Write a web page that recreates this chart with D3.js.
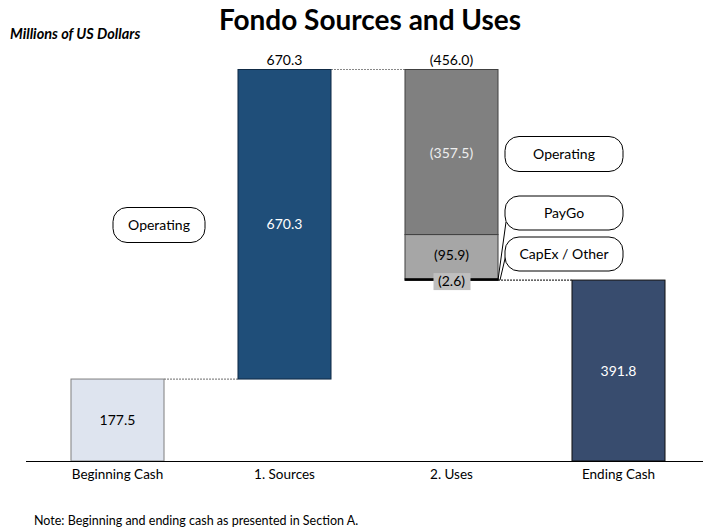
<!DOCTYPE html>
<html>
<head>
<meta charset="utf-8">
<script src="https://cdn.jsdelivr.net/npm/d3@7"></script>
<style>
  body { margin: 0; background: #fff; }
  svg { display: block; font-family: Lato, "Open Sans", sans-serif; }
</style>
</head>
<body>
<svg id="chart" width="703" height="531"></svg>
<script>
const categories = ["Beginning Cash", "1. Sources", "2. Uses", "Ending Cash"];
const beginningCash = 177.5;
const sourcesValues = [670.3];
const sourcesLabels = ["Operating"];
const usesValues = [357.5, 95.9, 2.6];
const usesLabels = ["Operating", "PayGo", "CapEx / Other"];
const endingCash = 391.8;
const titleText = "Fondo Sources and Uses";
const unitsText = "Millions of US Dollars";
const noteText = "Note: Beginning and ending cash as presented in Section A.";

(function () {
const svg = d3.select("#chart");
const baseY = 461;

const x = d3.scaleBand().domain(categories).range([34, 702]).paddingInner(0.443).paddingOuter(0.2215);
const sourcesTotal = d3.sum(sourcesValues);
const usesTotal = d3.sum(usesValues);
const peak = beginningCash + sourcesTotal;
const y = d3.scaleLinear().domain([0, peak]).range([baseY, 69.5]);

const fmt = v => d3.format(".1f")(v);
const neg = v => "(" + d3.format(".1f")(v) + ")";
const NUM = 14;

// Title
svg.append("text").attr("x", 370).attr("y", 30).attr("text-anchor", "middle")
  .attr("font-size", 28).attr("font-weight", "bold").attr("fill", "#000").text(titleText);
svg.append("text").attr("x", 10).attr("y", 39).attr("font-size", 14.5)
  .attr("font-weight", "bold").attr("font-style", "italic").attr("fill", "#000").text(unitsText);

const bw = x.bandwidth();

// Connectors (dotted)
const conn = svg.append("g").attr("stroke", "#888").attr("stroke-width", 1.2).attr("stroke-dasharray", "2,1");
conn.append("line").attr("x1", x(categories[0]) + bw).attr("x2", x(categories[1]))
  .attr("y1", y(beginningCash)).attr("y2", y(beginningCash));
conn.append("line").attr("x1", x(categories[1]) + bw).attr("x2", x(categories[2]))
  .attr("y1", y(peak)).attr("y2", y(peak));
conn.append("line").attr("x1", x(categories[2]) + bw).attr("x2", x(categories[3]))
  .attr("y1", y(peak - usesTotal)).attr("y2", y(peak - usesTotal)).attr("stroke", "#333");

// Beginning cash bar
svg.append("rect").attr("x", x(categories[0])).attr("y", y(beginningCash))
  .attr("width", bw).attr("height", y(0) - y(beginningCash))
  .attr("fill", "#dee4ef").attr("stroke", "#7f7f7f").attr("stroke-width", 1);
svg.append("text").attr("x", x(categories[0]) + bw / 2).attr("y", y(beginningCash / 2) + 5)
  .attr("text-anchor", "middle").attr("font-size", NUM).attr("fill", "#000").text(fmt(beginningCash));

// Sources bar
let cum = beginningCash;
sourcesValues.forEach((v) => {
  svg.append("rect").attr("x", x(categories[1])).attr("y", y(cum + v))
    .attr("width", bw).attr("height", y(cum) - y(cum + v))
    .attr("fill", "#1f4e79").attr("stroke", "#0f2a45").attr("stroke-width", 1);
  svg.append("text").attr("x", x(categories[1]) + bw / 2).attr("y", y(cum + v / 2) + 5)
    .attr("text-anchor", "middle").attr("font-size", NUM).attr("fill", "#fff").text(fmt(v));
  cum += v;
});
svg.append("text").attr("x", x(categories[1]) + bw / 2).attr("y", y(peak) - 5)
  .attr("text-anchor", "middle").attr("font-size", NUM).attr("fill", "#000").text(fmt(sourcesTotal));

// Uses bars
const usesFill = ["#808080", "#a6a6a6", "#000"];
let level = peak;
const usesRects = [];
usesValues.forEach((v, i) => {
  const y0 = y(level), y1 = y(level - v);
  svg.append("rect").attr("x", x(categories[2])).attr("y", y0)
    .attr("width", bw).attr("height", Math.max(y1 - y0, 1.5))
    .attr("fill", usesFill[i]).attr("stroke", i === 2 ? "#000" : "#404040").attr("stroke-width", 1);
  usesRects.push([y0, y1]);
  level -= v;
});
svg.append("text").attr("x", x(categories[2]) + bw / 2).attr("y", y(peak) - 5)
  .attr("text-anchor", "middle").attr("font-size", NUM).attr("fill", "#000").text(neg(usesTotal));
svg.append("text").attr("x", x(categories[2]) + bw / 2).attr("y", (usesRects[0][0] + usesRects[0][1]) / 2 + 6)
  .attr("text-anchor", "middle").attr("font-size", NUM).attr("fill", "#eeeeee").text(neg(usesValues[0]));
svg.append("text").attr("x", x(categories[2]) + bw / 2).attr("y", (usesRects[1][0] + usesRects[1][1]) / 2 + 3)
  .attr("text-anchor", "middle").attr("font-size", NUM).attr("fill", "#000").text(neg(usesValues[1]));
const capY = usesRects[2][1] + 1;
svg.append("rect").attr("x", x(categories[2]) + bw / 2 - 18).attr("y", capY - 8)
  .attr("width", 37).attr("height", 17).attr("fill", "#bfbfbf");
svg.append("text").attr("x", x(categories[2]) + bw / 2).attr("y", capY + 5)
  .attr("text-anchor", "middle").attr("font-size", NUM).attr("fill", "#000").text(neg(usesValues[2]));

// Ending cash
svg.append("rect").attr("x", x(categories[3])).attr("y", y(endingCash))
  .attr("width", bw).attr("height", y(0) - y(endingCash))
  .attr("fill", "#384c6e").attr("stroke", "#111").attr("stroke-width", 1);
svg.append("text").attr("x", x(categories[3]) + bw / 2).attr("y", y(endingCash / 2) + 5)
  .attr("text-anchor", "middle").attr("font-size", NUM).attr("fill", "#fff").text(fmt(endingCash));

// Axis
const axis = svg.append("g").attr("transform", `translate(0,${baseY})`)
  .call(d3.axisBottom(x).tickSize(0).tickPadding(8));
axis.select(".domain").attr("d", `M26,0.5H703`).attr("stroke", "#000");
axis.selectAll("text").attr("font-size", 13.5).attr("fill", "#000").attr("font-family", "Lato, 'Open Sans', sans-serif");

// Callouts
function callout(cx, cy, w, h, label) {
  svg.append("rect").attr("x", cx - w / 2).attr("y", cy - h / 2).attr("width", w).attr("height", h)
    .attr("rx", 14).attr("ry", 14).attr("fill", "#fff").attr("stroke", "#000").attr("stroke-width", 1);
  svg.append("text").attr("x", cx).attr("y", cy + 5).attr("text-anchor", "middle")
    .attr("font-size", 14).attr("fill", "#000").text(label);
}
const bxR = x(categories[2]) + bw;
svg.append("line").attr("x1", 506).attr("y1", 222).attr("x2", bxR).attr("y2", usesRects[2][1])
  .attr("stroke", "#000").attr("stroke-width", 1);
svg.append("line").attr("x1", 508).attr("y1", 246).attr("x2", bxR + 2).attr("y2", usesRects[2][1])
  .attr("stroke", "#000").attr("stroke-width", 1);
callout(159, 225, 92, 35, sourcesLabels[0]);
callout(564, 154, 118, 35, usesLabels[0]);
callout(564, 213, 118, 34, usesLabels[1]);
callout(564, 254, 118, 34, usesLabels[2]);

// Note
svg.append("text").attr("x", 34).attr("y", 525).attr("font-size", 12.5).attr("fill", "#000").text(noteText);
})();
</script>
</body>
</html>
